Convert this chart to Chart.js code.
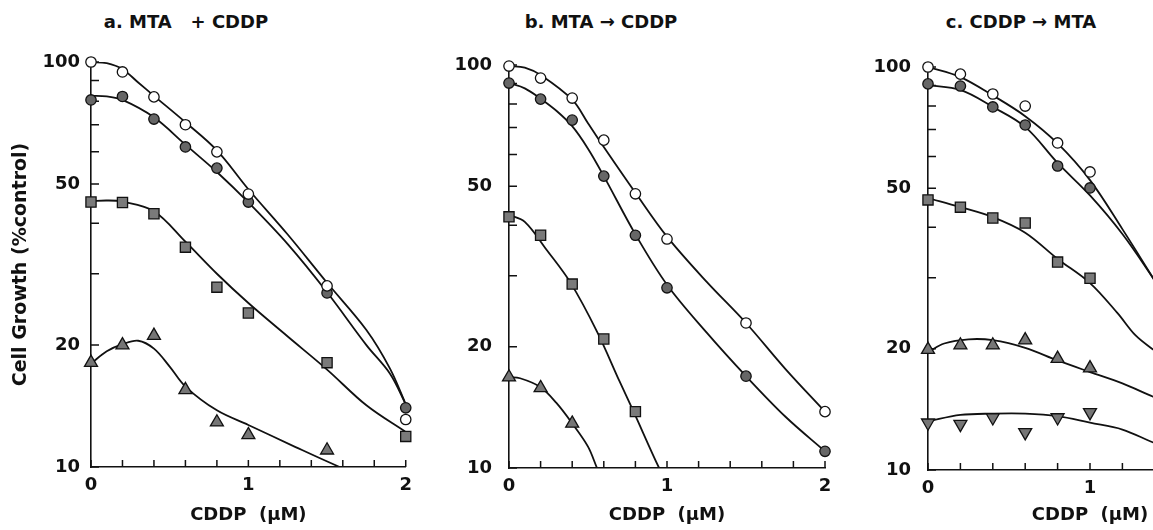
<!DOCTYPE html>
<html><head><meta charset="utf-8">
<script src="https://cdn.jsdelivr.net/npm/chart.js@4.4.1/dist/chart.umd.min.js"></script>
<style>
html,body{margin:0;padding:0;background:#fff;}
#wrap{position:relative;width:1153px;height:530px;overflow:hidden;background:#fff;}
canvas{position:absolute;top:0;}
.ptitle{position:absolute;top:11px;width:300px;text-align:center;font:bold 18px "DejaVu Sans";line-height:22px;white-space:pre;color:#111;}
</style></head>
<body><div id="wrap">
<div class="ptitle" style="left:36px">a. MTA   + CDDP</div>
<div class="ptitle" style="left:451px">b. MTA → CDDP</div>
<div class="ptitle" style="left:871px">c. CDDP → MTA</div>
<canvas id="ca" width="420" height="530" style="left:0;width:420px;height:530px"></canvas>
<canvas id="cb" width="420" height="530" style="left:420px;width:420px;height:530px"></canvas>
<canvas id="cc" width="430" height="530" style="left:840px;width:430px;height:530px"></canvas>
</div>
<script>
// ---- tick definitions ----
const xTickValues = [0, 0.2, 0.4, 0.6, 0.8, 1, 1.2, 1.4, 1.6, 1.8, 2];
const xLabelValues = [0, 1, 2];
const yTickValues = [10, 20, 30, 40, 50, 60, 70, 80, 90, 100];
const yLabelValues = [10, 20, 50, 100];

// ---- measured points (CDDP dose, µM) ----
const doseX = [0, 0.2, 0.4, 0.6, 0.8, 1.0, 1.5, 2.0];
const doseXc = [0, 0.2, 0.4, 0.6, 0.8, 1.0];

// panel a: MTA + CDDP
const aOpen     = [100, 94.5, 82, 70, 60, 47.2, 28, 13.1];
const aFilled   = [80.6, 82.2, 72.3, 61.7, 54.7, 45.1, 26.9, 14];
const aSquare   = [45.1, 45, 42.2, 34.9, 27.8, 24, 18.1, 11.9];
const aTriangle = [18.1, 20, 21.1, 15.5, 12.9, 12, 11.0];

// panel b: MTA -> CDDP
const bOpen     = [99.4, 92.8, 82.8, 65.1, 47.9, 37.0, 22.9, 13.8];
const bFilled   = [90.2, 82.3, 73, 53, 37.8, 28.0, 16.9, 11.0];
const bSquare   = [42.0, 37.8, 28.6, 20.9, 13.8];
const bTriangle = [16.8, 15.8, 12.9];

// panel c: CDDP -> MTA
const cOpen     = [100, 96, 85.7, 80.0, 64.8, 54.9];
const cFilled   = [90.8, 89.7, 79.6, 71.8, 56.8, 50.1];
const cSquare   = [46.8, 44.9, 42.2, 41.0, 32.8, 29.9];
const cTriangle = [19.9, 20.4, 20.4, 21.0, 18.9, 17.9];
const cInverted = [13.1, 13.0, 13.5, 12.4, 13.5, 13.9];

// ---- fitted curves ----
const aOpenCurveX   = [0, 0.1, 0.2, 0.3, 0.4, 0.6, 0.8, 1.0, 1.25, 1.5, 1.75, 1.9, 2.0];
const aOpenCurveY   = [100, 99.3, 96, 89, 82.5, 71, 60.5, 48.5, 37.5, 28.5, 21.8, 17.5, 14.3];
const aFilledCurveX = [0, 0.1, 0.2, 0.4, 0.6, 0.8, 1.0, 1.25, 1.5, 1.75, 1.9, 2.0];
const aFilledCurveY = [82.5, 82.2, 80.6, 73, 62.5, 53.5, 45, 35.5, 27, 20, 17, 14.3];
const aSquareCurveX = [0, 0.1, 0.2, 0.4, 0.6, 0.8, 1.0, 1.25, 1.5, 1.75, 2.0];
const aSquareCurveY = [45.3, 45.5, 45.2, 42.8, 36, 30, 25.4, 21, 17.4, 14.2, 12.2];
const aTriCurveX    = [0, 0.1, 0.2, 0.3, 0.4, 0.5, 0.6, 0.8, 1.0, 1.3, 1.58, 1.7];
const aTriCurveY    = [18.0, 19.3, 20.1, 20.5, 19.6, 17.7, 15.8, 13.8, 12.7, 11.2, 10.0, 9.6];

const bOpenCurveX   = [0, 0.1, 0.2, 0.4, 0.5, 0.6, 0.8, 1.0, 1.25, 1.5, 1.75, 2.0];
const bOpenCurveY   = [99.4, 98.5, 94.4, 82, 71.7, 62.6, 48.2, 37.5, 29, 22.9, 17.6, 13.8];
const bFilledCurveX = [0, 0.1, 0.2, 0.3, 0.4, 0.5, 0.6, 0.8, 1.0, 1.25, 1.5, 1.75, 2.0];
const bFilledCurveY = [90.2, 87.5, 82.5, 77, 70.5, 62, 53, 38, 28.5, 21.7, 16.9, 13.4, 11.0];
const bSquareCurveX = [0, 0.1, 0.24, 0.39, 0.557, 0.7, 0.785, 0.95, 1.05];
const bSquareCurveY = [42.5, 40.8, 34.7, 28.8, 21.8, 16.4, 13.9, 10, 8.4];
const bTriCurveX    = [0, 0.07, 0.196, 0.3, 0.4, 0.5, 0.557, 0.62];
const bTriCurveY    = [16.8, 16.7, 15.9, 14.5, 12.9, 11.3, 10, 8.8];

const cOpenCurveX   = [0, 0.2, 0.4, 0.6, 0.8, 1.0, 1.2, 1.39, 1.5];
const cOpenCurveY   = [100, 94.4, 85, 75.5, 64.6, 52.4, 39.6, 29.9, 25.2];
const cFilledCurveX = [0, 0.2, 0.4, 0.6, 0.8, 1.0, 1.2, 1.39, 1.5];
const cFilledCurveY = [90.2, 87.7, 79.6, 71, 57.8, 48, 38.5, 29.9, 25.6];
const cSquareCurveX = [0, 0.2, 0.4, 0.6, 0.8, 1.0, 1.17, 1.28, 1.39, 1.5];
const cSquareCurveY = [47.3, 44.9, 42.4, 38.8, 33.4, 29.1, 24.5, 21.6, 19.9, 18.6];
const cTriCurveX    = [0, 0.1, 0.25, 0.4, 0.6, 0.8, 1.0, 1.2, 1.39, 1.5];
const cTriCurveY    = [19.6, 20.6, 21.1, 21.0, 20.1, 18.7, 17.5, 16.4, 15.2, 14.6];
const cInvCurveX    = [0, 0.2, 0.4, 0.6, 0.8, 1.0, 1.2, 1.39, 1.5];
const cInvCurveY    = [13.2, 13.7, 13.8, 13.8, 13.6, 13.1, 12.6, 11.7, 11.3];

// ---- styles ----
const INK = '#111';
const FONT = {family: '"DejaVu Sans"', size: 18, weight: 'bold'};
const YTITLE_FONT = {family: '"DejaVu Sans"', size: 19, weight: 'bold'};
const MARK = {
  open:     {pointStyle: 'circle',   pointRadius: 5.2, pointBackgroundColor: '#fff',    rotation: 0},
  filled:   {pointStyle: 'circle',   pointRadius: 5.2, pointBackgroundColor: '#666',    rotation: 0},
  square:   {pointStyle: 'rect',     pointRadius: 7.2, pointBackgroundColor: '#7a7a7a', rotation: 0},
  triangle: {pointStyle: 'triangle', pointRadius: 7.5, pointBackgroundColor: '#767676', rotation: 0},
  inverted: {pointStyle: 'triangle', pointRadius: 7.5, pointBackgroundColor: '#767676', rotation: 180}
};

function pts(xs, ys) { return ys.map((v, i) => ({x: xs[i], y: v})); }
function pointSet(xs, ys, kind) {
  const m = MARK[kind];
  return {data: pts(xs, ys), showLine: false, order: 0, clip: false,
    pointStyle: m.pointStyle, pointRadius: m.pointRadius, pointRotation: m.rotation,
    pointBackgroundColor: m.pointBackgroundColor, pointBorderColor: INK, pointBorderWidth: 1.3,
    pointHoverRadius: m.pointRadius};
}
function curveSet(xs, ys) {
  return {data: pts(xs, ys), showLine: true, order: 1, pointRadius: 0, pointHoverRadius: 0,
    borderColor: INK, borderWidth: 1.8, tension: 0.35, fill: false};
}

const innerTicks = {
  id: 'innerTicks',
  beforeDatasetsDraw(chart) {
    const {ctx, chartArea: ca, scales: {x, y}} = chart;
    ctx.save();
    ctx.strokeStyle = INK; ctx.lineWidth = 1.5;
    ctx.beginPath();
    yTickValues.forEach(v => { const py = y.getPixelForValue(v); ctx.moveTo(ca.left, py); ctx.lineTo(ca.left + 8, py); });
    xTickValues.forEach(v => { const px = x.getPixelForValue(v); ctx.moveTo(px, ca.bottom); ctx.lineTo(px, ca.bottom - 7); });
    ctx.stroke();
    ctx.restore();
  }
};

function makePanel(id, p) {
  new Chart(document.getElementById(id), {
    type: 'scatter',
    data: {datasets: p.datasets},
    plugins: [innerTicks],
    options: {
      responsive: false, animation: false, events: [],
      layout: {padding: {top: p.padTop, right: p.padRight, bottom: 0, left: 0}},
      plugins: {legend: {display: false}, tooltip: {enabled: false}, title: {display: false}},
      scales: {
        x: {
          type: 'linear', min: 0, max: 2,
          afterBuildTicks: s => { s.ticks = xTickValues.map(v => ({value: v})); },
          afterFit: s => { s.height = p.xHeight; },
          grid: {display: false, drawTicks: false},
          border: {display: true, color: INK, width: 1.6},
          ticks: {autoSkip: false, maxRotation: 0, padding: 8, color: INK, font: FONT,
            callback: v => xLabelValues.includes(v) ? String(v) : ''},
          title: {display: true, text: 'CDDP  (μM)', color: INK, font: FONT, padding: {top: 0, bottom: 4}}
        },
        y: {
          type: 'logarithmic', min: 10, max: 100,
          afterBuildTicks: s => { s.ticks = yTickValues.map(v => ({value: v})); },
          afterFit: s => { s.width = p.yWidth; },
          grid: {display: false, drawTicks: false},
          border: {display: true, color: INK, width: 1.6},
          ticks: {autoSkip: false, padding: p.tickPad, color: INK, font: FONT,
            callback: v => yLabelValues.includes(v) ? String(v) : ''},
          title: {display: !!p.yTitle, text: p.yTitle || '', color: INK, font: YTITLE_FONT, padding: {top: 10, bottom: 0}}
        }
      }
    }
  });
}

makePanel('ca', {
  padTop: 62, padRight: 13, xHeight: 63, yWidth: 91, tickPad: 11, yTitle: 'Cell Growth (%control)',
  datasets: [
    pointSet(doseX, aOpen, 'open'), pointSet(doseX, aFilled, 'filled'),
    pointSet(doseX, aSquare, 'square'), pointSet(doseX, aTriangle, 'triangle'),
    curveSet(aOpenCurveX, aOpenCurveY), curveSet(aFilledCurveX, aFilledCurveY),
    curveSet(aSquareCurveX, aSquareCurveY), curveSet(aTriCurveX, aTriCurveY)
  ]
});
makePanel('cb', {
  padTop: 65, padRight: 15, xHeight: 62, yWidth: 89, tickPad: 17,
  datasets: [
    pointSet(doseX, bOpen, 'open'), pointSet(doseX, bFilled, 'filled'),
    pointSet(doseX, bSquare, 'square'), pointSet(doseX, bTriangle, 'triangle'),
    curveSet(bOpenCurveX, bOpenCurveY), curveSet(bFilledCurveX, bFilledCurveY),
    curveSet(bSquareCurveX, bSquareCurveY), curveSet(bTriCurveX, bTriCurveY)
  ]
});
makePanel('cc', {
  padTop: 67, padRight: 18, xHeight: 60, yWidth: 88, tickPad: 17,
  datasets: [
    pointSet(doseXc, cOpen, 'open'), pointSet(doseXc, cFilled, 'filled'),
    pointSet(doseXc, cSquare, 'square'), pointSet(doseXc, cTriangle, 'triangle'),
    pointSet(doseXc, cInverted, 'inverted'),
    curveSet(cOpenCurveX, cOpenCurveY), curveSet(cFilledCurveX, cFilledCurveY),
    curveSet(cSquareCurveX, cSquareCurveY), curveSet(cTriCurveX, cTriCurveY),
    curveSet(cInvCurveX, cInvCurveY)
  ]
});
</script>
</body></html>
